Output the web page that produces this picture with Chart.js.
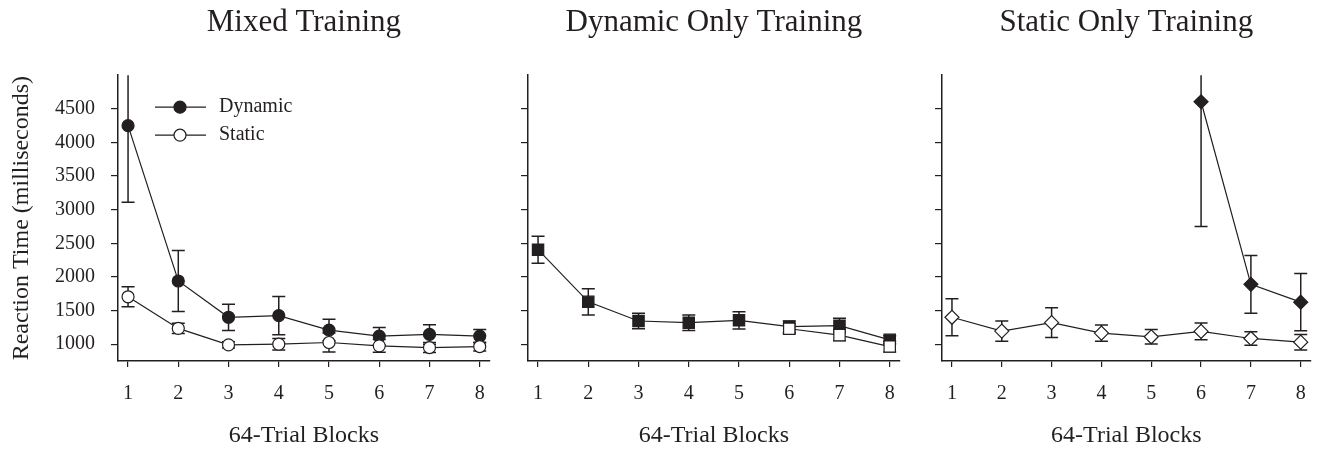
<!DOCTYPE html>
<html>
<head>
<meta charset="utf-8">
<title>Reaction time by training condition</title>
<script src="https://cdn.jsdelivr.net/npm/chart.js@4.4.1/dist/chart.umd.min.js"></script>
<style>
    html, body { margin: 0; padding: 0; background: #fff; overflow: hidden; }
    canvas { position: absolute; top: 0; }
</style>
</head>
<body>
<canvas id="mixedChart" width="500" height="450" style="left:0px"></canvas>
<canvas id="dynamicChart" width="500" height="450" style="left:410px"></canvas>
<canvas id="staticChart" width="497" height="450" style="left:824px"></canvas>
<script>
const blocks = [1, 2, 3, 4, 5, 6, 7, 8];
const rtTicks = [1000, 1500, 2000, 2500, 3000, 3500, 4000, 4500];

// Mixed training
const mixedDynamic = [4250, 1940, 1400, 1425, 1210, 1120, 1145, 1120];
const mixedDynamicErr = [1140, 455, 195, 285, 160, 130, 145, 100];
const mixedStatic = [1705, 1235, 990, 1000, 1025, 975, 950, 965];
const mixedStaticErr = [150, 75, 45, 85, 140, 95, 75, 65];

// Dynamic only training
const dynOnlyDynamic = [2405, 1630, 1345, 1320, 1355, 1260, 1275, 1065];
const dynOnlyDynamicErr = [200, 195, 115, 115, 128, 85, 110, 60];
const dynOnlyStatic = [null, null, null, null, null, 1230, 1135, 965];
const dynOnlyStaticErr = [null, null, null, null, null, 75, 85, 80];

// Static only training
const statOnlyStatic = [1400, 1195, 1320, 1165, 1110, 1190, 1085, 1030];
const statOnlyStaticErr = [275, 150, 222, 122, 108, 125, 100, 115];
const statOnlyDynamic = [null, null, null, null, null, 4605, 1890, 1625];
const statOnlyDynamicErr = [null, null, null, null, null, 1855, 430, 425];

const ink = '#231f20';
const serif = '"Liberation Serif", "Times New Roman", serif';

// vertical error bars with caps, drawn under the markers
const errorBars = {
    id: 'errorBars',
    beforeDatasetsDraw(chart) {
        const { ctx, chartArea, scales: { x, y } } = chart;
        ctx.save();
        ctx.beginPath();
        ctx.rect(chartArea.left, chartArea.top, chartArea.right - chartArea.left, chartArea.bottom - chartArea.top);
        ctx.clip();
        ctx.strokeStyle = ink;
        ctx.lineWidth = 1.5;
        chart.data.datasets.forEach(ds => {
            ds.data.forEach((p, i) => {
                const e = ds.errors[i];
                if (p.y == null || e == null) return;
                const px = x.getPixelForValue(p.x);
                const top = y.getPixelForValue(p.y + e);
                const bot = y.getPixelForValue(p.y - e);
                ctx.beginPath();
                ctx.moveTo(px, top); ctx.lineTo(px, bot);
                ctx.moveTo(px - 6.5, top); ctx.lineTo(px + 6.5, top);
                ctx.moveTo(px - 6.5, bot); ctx.lineTo(px + 6.5, bot);
                ctx.stroke();
            });
        });
        ctx.restore();
    }
};

// line-through-marker key inside the first panel
const seriesKey = {
    id: 'seriesKey',
    afterDatasetsDraw(chart, args, opts) {
        if (!opts.items || !opts.items.length) return;
        const { ctx, chartArea } = chart;
        ctx.save();
        opts.items.forEach((name, i) => {
            const ds = chart.data.datasets.find(d => d.label === name);
            const y = chartArea.top + 32 + i * 28;
            const x0 = chartArea.left + 37;
            ctx.strokeStyle = ink;
            ctx.lineWidth = 1.2;
            ctx.beginPath();
            ctx.moveTo(x0, y);
            ctx.lineTo(x0 + 51, y);
            ctx.stroke();
            ctx.fillStyle = ds.pointBackgroundColor;
            ctx.lineWidth = ds.pointBorderWidth;
            Chart.helpers.drawPoint(ctx, {
                pointStyle: ds.pointStyle, radius: ds.pointRadius, rotation: 0, borderWidth: ds.pointBorderWidth
            }, x0 + 25, y);
            ctx.fillStyle = ink;
            ctx.font = '20px ' + serif;
            ctx.textBaseline = 'middle';
            ctx.textAlign = 'left';
            ctx.fillText(name, x0 + 64, y);
        });
        ctx.restore();
    }
};

function series(label, values, errors, style, radius, filled) {
    return {
        label: label,
        data: blocks.map((b, i) => ({ x: b, y: values[i] })),
        errors: errors,
        borderColor: ink,
        borderWidth: 1.2,
        pointStyle: style,
        pointRadius: radius,
        pointBackgroundColor: filled ? ink : '#fff',
        pointBorderColor: ink,
        pointBorderWidth: 1.2,
        spanGaps: false,
        tension: 0
    };
}

function panel(canvasId, title, datasets, cfg) {
    return new Chart(document.getElementById(canvasId), {
        type: 'line',
        data: { datasets: datasets },
        options: {
            responsive: false,
            animation: false,
            events: [],
            layout: { padding: { right: cfg.padRight } },
            plugins: {
                legend: { display: false },
                tooltip: { enabled: false },
                title: {
                    display: true,
                    text: title,
                    fullSize: false,
                    color: ink,
                    font: { family: serif, size: 31, weight: 'normal' },
                    padding: { top: 4, bottom: 34 }
                },
                seriesKey: { items: cfg.key || [] }
            },
            scales: {
                x: {
                    type: 'linear',
                    min: 0.8,
                    max: 8.2,
                    afterBuildTicks: s => { s.ticks = blocks.map(v => ({ value: v })); },
                    afterFit: s => { s.height = 89; },
                    grid: { drawOnChartArea: false, tickLength: 6, color: ink, lineWidth: 1.2 },
                    border: { color: ink, width: 1.5 },
                    ticks: {
                        color: ink, padding: 15, maxRotation: 0,
                        font: { family: serif, size: 20 },
                        callback: v => String(v)
                    },
                    title: {
                        display: true, text: '64-Trial Blocks', color: ink,
                        font: { family: serif, size: 24 },
                        padding: { top: 0, bottom: 0 }
                    }
                },
                y: {
                    min: 750,
                    max: 5000,
                    afterBuildTicks: s => { s.ticks = rtTicks.map(v => ({ value: v })); },
                    afterFit: s => { s.width = 118; },
                    grid: { drawOnChartArea: false, tickLength: 7, color: ink, lineWidth: 1.2 },
                    border: { color: ink, width: 1.5 },
                    ticks: {
                        display: cfg.labels, color: ink, padding: 16,
                        font: { family: serif, size: 20 },
                        callback: v => String(v)
                    },
                    title: {
                        display: cfg.labels, text: 'Reaction Time (milliseconds)', color: ink,
                        font: { family: serif, size: 24 },
                        padding: { top: 7, bottom: 0 }
                    }
                }
            }
        },
        plugins: [errorBars, seriesKey]
    });
}

document.addEventListener('DOMContentLoaded', () => {
    panel('mixedChart', 'Mixed Training', [
        series('Static', mixedStatic, mixedStaticErr, 'circle', 6, false),
        series('Dynamic', mixedDynamic, mixedDynamicErr, 'circle', 6, true)
    ], { padRight: 7, labels: true, key: ['Dynamic', 'Static'] });

    panel('dynamicChart', 'Dynamic Only Training', [
        series('Static', dynOnlyStatic, dynOnlyStaticErr, 'rect', 8, false),
        series('Dynamic', dynOnlyDynamic, dynOnlyDynamicErr, 'rect', 8, true)
    ], { padRight: 7, labels: false });

    panel('staticChart', 'Static Only Training', [
        series('Static', statOnlyStatic, statOnlyStaticErr, 'rectRot', 7, false),
        series('Dynamic', statOnlyDynamic, statOnlyDynamicErr, 'rectRot', 7, true)
    ], { padRight: 4, labels: false });
});
</script>
</body>
</html>
